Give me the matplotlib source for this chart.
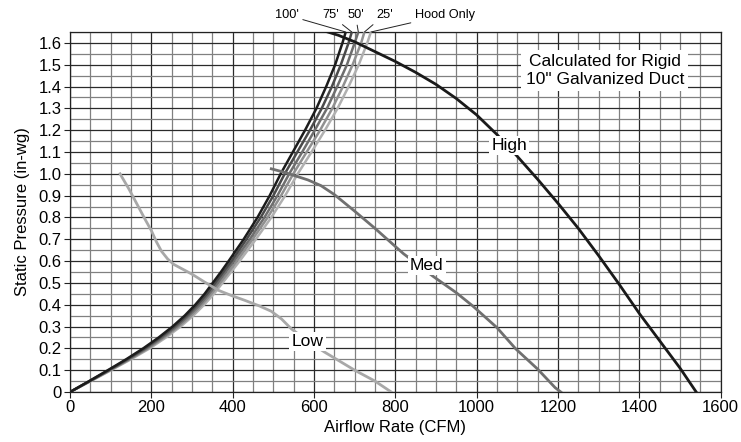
import matplotlib
matplotlib.use("Agg")
import matplotlib.pyplot as plt
from matplotlib.ticker import MultipleLocator

plt.rcParams['font.family'] = ['Liberation Sans', 'DejaVu Sans']

# ---- data ----
# fan curves (CFM, in-wg)
high_cfm = [625, 660, 700, 750, 800, 850, 900, 950, 1000, 1050, 1100, 1150, 1200,
            1250, 1300, 1350, 1400, 1450, 1500, 1540]
high_sp = [1.655, 1.635, 1.605, 1.56, 1.515, 1.465, 1.41, 1.345, 1.27, 1.18, 1.08, 0.975,
           0.865, 0.75, 0.625, 0.495, 0.36, 0.235, 0.11, 0.0]

med_cfm = [495, 525, 552, 585, 617, 650, 698, 750, 820, 893, 950, 990, 1050, 1096,
           1150, 1193, 1207]
med_sp = [1.023, 1.008, 0.992, 0.972, 0.946, 0.905, 0.832, 0.75, 0.634, 0.53, 0.455,
          0.395, 0.295, 0.198, 0.105, 0.02, 0.0]

low_cfm = [123, 145, 165, 185, 200, 212, 225, 240, 255, 280, 300, 330, 365, 400, 430,
           465, 495, 520, 544, 580, 625, 700, 750, 790]
low_sp = [1.0, 0.93, 0.86, 0.79, 0.74, 0.69, 0.645, 0.61, 0.585, 0.56, 0.54, 0.505,
          0.466, 0.44, 0.42, 0.395, 0.37, 0.335, 0.29, 0.24, 0.184, 0.10, 0.05, 0.0]

# system curves (duct lengths)
sys_sp = [0, 0.05, 0.1, 0.15, 0.2, 0.25, 0.3, 0.35, 0.4, 0.45, 0.5, 0.55, 0.6, 0.7,
          0.8, 0.9, 1.0, 1.1, 1.2, 1.3, 1.4, 1.5, 1.6, 1.65]
sys_100 = [0, 47, 93, 138, 180, 218, 252, 282, 308, 331, 351, 371, 390, 427, 461, 491,
           518, 548, 578, 606, 630, 652, 670, 678]
sys_75 = [0, 48, 95, 141, 184, 222, 257, 287, 313, 337, 357, 377, 397, 434, 469, 500,
          528, 559, 590, 619, 644, 666, 685, 693]
sys_50 = [0, 49, 97, 144, 188, 227, 262, 292, 319, 342, 363, 383, 403, 442, 478, 510,
          539, 571, 602, 632, 657, 681, 700, 709]
sys_25 = [0, 50, 99, 147, 192, 231, 267, 298, 324, 348, 369, 390, 410, 449, 486, 519,
          549, 582, 615, 645, 671, 695, 716, 724]
sys_hood = [0, 51, 101, 150, 196, 236, 272, 303, 330, 354, 375, 396, 417, 457, 495, 529,
            560, 594, 627, 658, 685, 710, 731, 740]

sys_labels = ["100'", "75'", "50'", "25'", "Hood Only"]
sys_label_x = [533, 640, 702, 773, 922]

x_ticks = [0, 200, 400, 600, 800, 1000, 1200, 1400, 1600]
y_ticks = [0, 0.1, 0.2, 0.3, 0.4, 0.5, 0.6, 0.7, 0.8, 0.9, 1.0, 1.1, 1.2, 1.3, 1.4, 1.5, 1.6]
y_tick_labels = ["0", "0.1", "0.2", "0.3", "0.4", "0.5", "0.6", "0.7", "0.8", "0.9",
                 "1.0", "1.1", "1.2", "1.3", "1.4", "1.5", "1.6"]

# ---- figure ----
fig = plt.figure(figsize=(7.41, 4.42), dpi=100)
ax = fig.add_axes([0.0945, 0.1131, 0.878, 0.8145])
ax.set_xlim(0, 1600)
ax.set_ylim(0, 1.65)

ax.set_xticks(x_ticks)
ax.set_yticks(y_ticks)
ax.set_yticklabels(y_tick_labels)
ax.xaxis.set_minor_locator(MultipleLocator(50))
ax.yaxis.set_minor_locator(MultipleLocator(0.05))
ax.grid(which='major', color='#2a2a2a', linewidth=0.9, zorder=0)
ax.grid(which='minor', color='#808080', linewidth=0.9, zorder=0)
ax.set_axisbelow(True)
ax.tick_params(which='major', labelsize=12, length=4, width=0.8, color='#222', pad=2)
ax.tick_params(which='minor', length=0)
for s in ax.spines.values():
    s.set_color('#222')
    s.set_linewidth(0.9)

ax.set_xlabel("Airflow Rate (CFM)", fontsize=12, labelpad=3)
ax.set_ylabel("Static Pressure (in-wg)", fontsize=12, labelpad=6)

# system curves
sys_curves = [sys_100, sys_75, sys_50, sys_25, sys_hood]
sys_colors = ['#1c1c1c', '#4a4a4a', '#6e6e6e', '#909090', '#b0b0b0']
for xs, c in zip(reversed(sys_curves), reversed(sys_colors)):
    ax.plot(xs, sys_sp, color=c, linewidth=1.8, zorder=3, solid_capstyle='butt',
            solid_joinstyle='round')

# fan curves
ax.plot(high_cfm, high_sp, color='#1a1a1a', linewidth=2.0, zorder=4, solid_joinstyle='round')
ax.plot(med_cfm, med_sp, color='#707070', linewidth=2.0, zorder=4, solid_joinstyle='round')
ax.plot(low_cfm, low_sp, color='#a8a8a8', linewidth=2.0, zorder=4, solid_joinstyle='round')

box = dict(facecolor='white', edgecolor='none', pad=1.5)
ax.text(1080, 1.13, "High", fontsize=12.5, ha='center', va='center', bbox=box, zorder=6)
ax.text(877, 0.58, "Med", fontsize=12.5, ha='center', va='center', bbox=box, zorder=6)
ax.text(584, 0.23, "Low", fontsize=12.5, ha='center', va='center', bbox=box, zorder=6)
ax.text(1315, 1.475, "Calculated for Rigid\n10\" Galvanized Duct", fontsize=12.5,
        ha='center', va='center', linespacing=1.25,
        bbox=dict(facecolor='white', edgecolor='none', pad=3), zorder=6)

# system curve labels above the plot
for lab, lx, xs in zip(sys_labels, sys_label_x, sys_curves):
    ax.annotate(lab, xy=(xs[-1], sys_sp[-1]), xytext=(lx, 1.728),
                textcoords='data', fontsize=9.2, ha='center', va='center',
                annotation_clip=False,
                arrowprops=dict(arrowstyle='-', color='#222', linewidth=0.7,
                                shrinkA=1, shrinkB=0))

fig.savefig("out.png", dpi=100)
